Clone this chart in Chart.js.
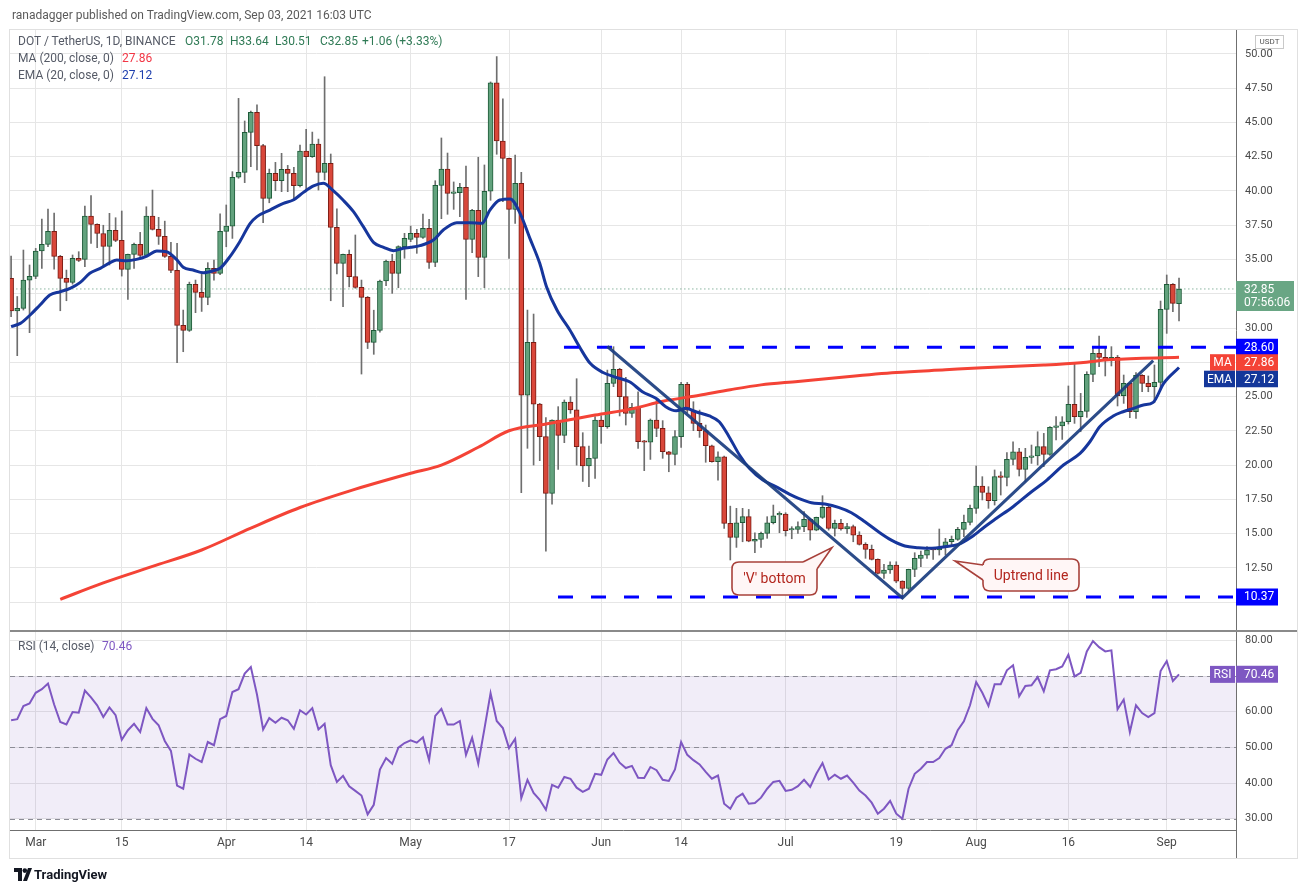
<!DOCTYPE html>
<html>
<head>
<meta charset="utf-8">
<title>DOT / TetherUS 1D</title>
<script src="https://cdn.jsdelivr.net/npm/chart.js@4.4.1/dist/chart.umd.min.js"></script>
<style>
html,body{margin:0;padding:0;background:#fff;}
#wrap{position:relative;width:1308px;height:893px;overflow:hidden;font-family:Roboto,"Liberation Sans",Arial,sans-serif;}
#c{position:absolute;left:0;top:0;}
.t{position:absolute;white-space:nowrap;font-size:12px;line-height:14px;color:#555a66;}
.ln{position:absolute;}
</style>
</head>
<body>
<div id="wrap">
  <div class="ln" style="left:9px;top:29px;width:1287px;height:828px;border:1px solid #e0e0e0;"></div>
  <canvas id="c" width="1308" height="893"></canvas>
  <div class="ln" style="left:10px;top:630px;width:1287px;height:2px;background:#8a8a8a;"></div>
  <div class="ln" style="left:1236px;top:830px;width:1px;height:28px;background:#6f6f6f;"></div>

  <div class="t" style="left:12px;top:8px;color:#5a5a5a;">ranadagger published on TradingView.com, Sep 03, 2021 16:03 UTC</div>
  <div class="t" style="left:18px;top:34px;">DOT / TetherUS, 1D, BINANCE</div>
  <div class="t" style="left:185px;top:34px;color:#2f7a55;">O31.78</div>
  <div class="t" style="left:230px;top:34px;color:#2f7a55;">H33.64</div>
  <div class="t" style="left:275px;top:34px;color:#2f7a55;">L30.51</div>
  <div class="t" style="left:320px;top:34px;color:#2f7a55;">C32.85</div>
  <div class="t" style="left:362px;top:34px;color:#2f7a55;">+1.06 (+3.33%)</div>
  <div class="t" style="left:18px;top:51px;">MA (200, close, 0)</div>
  <div class="t" style="left:122px;top:51px;color:#f23645;">27.86</div>
  <div class="t" style="left:18px;top:68px;">EMA (20, close, 0)</div>
  <div class="t" style="left:122px;top:68px;color:#1e3fae;">27.12</div>
  <div class="t" style="left:18px;top:639px;">RSI (14, close)</div>
  <div class="t" style="left:102px;top:639px;color:#7e57c2;">70.46</div>
  <div class="t" style="left:1255px;top:35px;width:27px;height:12px;border:1px solid #c9c9c9;font-size:8px;line-height:12px;text-align:center;color:#555;">USDT</div>

  <svg style="position:absolute;left:14px;top:868px;" width="18" height="14" viewBox="0 0 18 14">
    <path d="M0 0h8v13H4V4H0z" fill="#131722"/><circle cx="10.8" cy="2.6" r="2.3" fill="#131722"/><path d="M14 0h4l-5 13H9z" fill="#131722"/>
  </svg>
  <div class="t" style="left:34px;top:867px;font-size:13px;line-height:16px;color:#131722;font-weight:bold;">TradingView</div>
</div>
<script>
// ---- data ----
const opens = [
33.62,31.24,31.43,33.5,33.77,35.62,36.1,37.05,35.23,33.62,
33.33,35.08,35.01,38.17,37.56,36.9,35.96,37.13,36.4,34.28,
35.37,36.1,35.3,38.17,37.2,36.69,35.23,34.21,30.19,29.83,
33.18,32.6,32.24,34.35,33.99,37.05,37.44,41.0,41.36,44.28,
45.74,43.31,39.46,41.29,40.75,41.58,41.29,40.39,42.92,42.51,
43.43,41.36,42.02,37.35,34.72,35.38,33.75,32.97,32.24,28.95,
29.83,33.43,34.89,33.99,35.94,36.47,36.91,36.62,37.27,34.79,
40.41,41.6,39.83,39.88,40.27,36.47,38.59,35.16,39.98,47.9,
43.65,42.38,38.66,40.56,25.09,28.95,24.45,22.07,17.93,23.28,
22.17,24.6,24.02,21.34,19.93,20.49,23.28,22.8,25.96,26.98,
24.99,23.77,24.21,21.75,21.66,23.28,22.68,20.97,20.78,22.07,
25.89,24.01,23.04,22.51,21.41,20.24,20.6,15.74,14.72,15.79,
16.23,14.45,14.57,15.01,15.79,16.36,16.42,15.26,15.3,15.5,
16.03,15.25,16.18,16.91,15.38,15.74,15.33,15.5,14.89,14.21,
13.85,13.11,12.09,12.34,12.7,11.53,10.99,12.38,13.19,13.43,
13.87,13.8,13.99,14.4,14.57,15.3,15.82,16.84,18.47,17.98,
17.4,19.15,19.1,20.41,20.97,19.68,20.56,20.66,21.34,20.78,
22.75,22.85,23.16,24.43,23.53,23.92,26.62,28.15,27.86,27.71,
27.86,25.06,25.96,23.89,26.55,25.96,25.72,26.03,31.36,33.19,
31.78];
const highs = [
35.25,32.3,35.69,34.6,35.81,37.95,38.68,38.39,35.3,34.23,
35.33,35.57,38.9,39.66,37.6,37.5,38.37,38.05,38.54,35.4,
36.2,36.98,38.85,40.07,38.08,37.8,36.25,36.18,31.31,33.35,
33.5,33.94,34.77,34.96,38.34,38.98,41.41,46.76,45.11,45.84,
46.28,43.4,41.6,42.09,42.75,41.87,41.73,43.36,44.5,44.3,
43.79,48.34,42.7,38.69,35.4,35.69,36.79,33.5,32.3,31.3,
33.5,34.96,35.38,36.0,36.91,37.44,37.2,38.32,37.93,40.75,
43.87,42.77,40.66,40.56,41.82,38.66,42.46,41.9,47.96,49.81,
46.72,42.4,42.63,41.36,31.31,31.02,24.5,23.46,23.3,24.26,
24.75,24.99,26.3,22.36,21.38,23.53,23.6,26.93,28.64,27.06,
26.4,24.5,25.35,21.8,23.36,24.74,23.24,21.0,22.51,26.03,
26.03,24.62,24.01,22.92,21.45,20.97,20.65,17.0,16.84,16.84,
16.76,15.06,15.1,16.23,17.08,16.59,16.52,15.5,15.86,16.6,
16.1,16.2,17.76,17.0,15.98,16.03,15.74,15.62,15.13,14.33,
14.16,13.15,12.75,12.94,12.94,11.55,12.4,13.6,13.72,14.04,
13.9,15.33,14.65,14.82,15.45,16.35,17.08,19.93,19.15,18.42,
19.64,19.51,20.9,21.7,21.22,21.22,21.46,22.43,22.31,22.8,
23.53,23.53,25.77,27.42,25.23,26.81,28.64,29.42,28.52,28.64,
28.0,26.57,26.0,26.74,26.6,26.5,27.3,31.97,33.87,33.25,
33.64];
const lows = [
30.82,27.98,31.31,29.66,33.6,34.35,35.93,34.3,31.26,31.99,
33.2,34.85,34.47,36.18,35.86,34.47,34.6,36.3,33.79,32.09,
34.35,35.08,35.25,37.15,36.1,35.15,34.04,27.47,28.27,29.75,
31.12,31.21,31.7,33.5,33.9,35.93,36.54,40.93,40.61,41.77,
41.53,37.69,39.14,40.02,39.95,39.95,39.3,40.3,40.07,42.45,
40.07,40.8,31.99,33.94,31.56,33.0,32.9,26.64,28.5,28.08,
29.7,33.09,32.53,32.94,35.09,36.3,35.45,36.54,34.35,34.48,
37.98,38.3,38.66,38.13,32.09,35.5,33.75,32.94,39.32,42.68,
39.22,35.08,37.64,17.98,21.22,20.0,20.32,13.72,17.15,19.68,
21.63,23.77,19.99,18.8,18.42,19.03,21.58,22.68,25.72,23.58,
22.92,23.48,21.22,19.59,20.41,22.07,20.49,19.51,20.0,21.29,
23.82,22.51,22.02,20.2,20.2,18.9,15.38,13.07,13.99,14.4,
14.4,13.6,13.99,14.65,15.7,15.06,14.82,14.62,15.0,15.13,
14.52,15.2,16.1,15.25,14.82,15.25,15.01,14.4,14.16,13.19,
13.07,12.04,11.73,12.09,11.41,10.27,10.75,11.85,12.58,13.19,
13.11,13.43,13.43,14.16,14.5,14.77,15.62,16.47,17.45,16.84,
17.08,17.81,18.47,20.0,19.2,18.78,20.12,20.0,19.88,20.7,
21.83,21.87,22.99,23.04,22.43,23.48,26.08,27.18,26.5,27.23,
24.31,24.5,23.45,23.41,25.35,25.35,24.55,25.52,29.61,31.19,
30.51];
const closes = [
31.24,31.43,33.5,33.77,35.62,36.1,37.05,35.23,33.62,33.33,
35.08,34.94,38.17,37.56,36.9,35.96,37.13,36.4,34.28,35.37,
36.1,35.3,38.17,37.2,36.69,35.23,34.21,30.19,29.83,33.18,
32.6,32.24,34.35,33.99,37.05,37.44,41.0,41.36,44.28,45.74,
43.31,39.46,41.29,40.75,41.58,41.29,40.39,42.92,42.51,43.43,
41.36,42.02,37.35,34.72,35.38,33.75,32.97,32.24,28.95,29.83,
33.43,34.89,33.99,35.94,36.55,36.91,36.62,37.27,34.79,40.41,
41.6,39.83,39.88,40.27,36.47,38.59,35.16,39.98,47.9,43.65,
42.38,38.66,40.56,25.09,28.95,24.45,22.07,17.93,23.28,22.17,
24.6,24.02,21.34,19.93,20.49,23.28,22.8,25.96,26.98,24.99,
23.77,24.21,21.7,21.66,23.28,22.68,20.97,20.78,22.07,25.89,
24.01,23.04,22.51,21.41,20.24,20.6,15.74,14.72,15.79,16.23,
14.45,14.57,15.01,15.79,16.3,16.4,15.21,15.3,15.5,16.03,
15.25,16.18,16.91,15.38,15.74,15.33,15.5,14.89,14.21,13.85,
13.11,12.09,12.34,12.7,11.53,10.99,12.38,13.19,13.43,13.8,
13.8,13.99,14.4,14.57,15.3,15.82,16.84,18.47,18.0,17.4,
19.15,19.1,20.41,20.97,19.68,20.56,20.66,21.34,20.78,22.75,
22.85,23.16,24.43,23.53,23.92,26.62,28.15,27.86,27.71,27.86,
25.06,25.96,23.89,26.55,25.96,25.72,26.03,31.36,33.19,31.8,
32.85];
const rsiValues = [
57.6,57.9,61.6,62.3,65.3,66.3,67.9,62.0,57.1,56.4,
59.9,59.7,65.9,64.0,61.8,58.5,61.2,59.0,52.1,54.8,
56.6,54.3,61.0,58.0,56.2,51.8,49.0,39.3,38.4,48.0,
46.8,45.9,51.5,50.6,57.9,58.8,65.5,66.3,70.7,72.5,
64.8,55.0,58.2,56.9,58.3,57.6,55.2,60.4,59.2,61.0,
55.0,56.6,45.0,40.3,42.0,39.1,37.8,36.5,31.2,33.9,
43.8,47.0,45.4,49.9,51.2,52.0,51.3,52.8,46.4,58.8,
60.8,56.4,56.4,57.4,47.9,52.7,45.4,55.2,65.2,57.4,
55.4,49.8,52.4,35.8,40.9,37.2,35.3,32.5,39.5,38.7,
41.7,41.2,38.7,37.5,38.4,42.6,42.3,46.6,48.4,45.7,
44.2,44.8,41.5,41.4,44.5,43.6,40.9,40.6,43.8,51.5,
47.9,46.4,45.2,43.1,41.2,42.1,34.2,32.8,35.9,37.0,
34.2,34.4,35.9,38.4,40.3,40.6,37.8,38.1,39.1,40.9,
38.9,42.6,45.6,41.0,42.3,41.2,42.1,40.1,37.9,36.5,
34.5,31.4,32.8,35.0,31.4,30.0,38.4,42.6,44.0,45.9,
45.9,47.0,49.6,50.6,54.8,57.3,61.8,68.3,65.3,61.6,
67.7,67.7,71.6,73.0,64.3,67.2,67.4,69.7,65.7,71.6,
71.9,72.7,76.0,69.9,70.9,76.9,79.8,78.1,76.9,77.2,
60.7,63.4,54.3,61.8,59.6,58.5,59.6,71.4,74.2,68.6,
70.46];
const emaDays = [0,1.5,3.1,4.7,6.3,8,9.6,11.2,12.8,14.5,16.1,17.2,18.8,20.4,22.1,23.7,25.3,26.9,28,29.6,
31.3,32.9,34,35.6,37.2,38.9,40,42.1,44.3,45.9,47.5,49.2,50.8,52.4,54,55.7,57.3,59,60.6,62.2,
63.8,65,66.5,68.7,70.3,72.5,74.7,76.6,77.9,79.5,81.2,82.8,84.4,86,87.1,88.8,90.9,92.6,94.2,96.3,
98.4,100.6,102.7,104.9,106.5,108.2,109.8,111.4,113.6,115.2,116.8,118.5,120.1,122.3,124.4,126.6,128.1,130.2,132.4,134.6,
136.7,138.9,141.1,143.2,145.4,147.6,149.8,151.9,154.1,156.3,158.4,160.3,163,165.8,168.5,171.2,173.9,175.5,177.1,179.3,
180.9,182.6,184.2,185.8,187.5,190];
const emaValues = [30.1,30.34,30.95,31.68,32.41,32.65,32.89,33.31,33.99,34.35,34.77,34.96,34.91,35.01,35.25,35.62,35.57,35.01,34.43,34.23,
34.04,34.18,34.36,35.21,36.3,37.64,38.13,38.61,39.1,39.34,39.88,40.37,40.56,40.02,39.34,38.49,37.4,36.23,35.89,35.64,
35.82,35.89,36.01,36.42,37.15,37.69,37.69,37.64,38.61,39.34,39.42,38.37,36.54,34.72,33.02,31.31,29.85,28.52,27.42,26.75,
26.4,26.08,25.35,24.87,24.26,23.96,24.14,23.89,23.58,23.16,22.07,20.73,19.76,18.9,18.42,17.88,17.57,17.25,17.15,16.91,
16.52,15.86,15.13,14.52,14.09,13.97,13.92,14.04,14.21,14.77,15.5,16.11,16.96,17.98,18.9,20.0,20.85,21.7,22.8,23.58,
23.89,24.14,24.38,24.57,25.96,27.12];
const maDays = [8,15,23,31,39,47,55,65,70,76,81,87,92,95,101,106,112,117,122,128,136,144,152,158,168,174,179,190];
const maValues = [10.2,11.4,12.6,13.8,15.4,16.9,18.1,19.4,20.0,21.3,22.5,23.0,23.4,23.65,24.1,24.65,25.1,25.5,25.85,26.1,26.45,26.75,26.95,27.1,27.3,27.47,27.7,27.86];
const tickDays = [4,18,35,48,65,81,96,109,126,144,157,172,188];
const tickLabels = ['Mar','15','Apr','14','May','17','Jun','14','Jul','19','Aug','16','Sep'];
const priceTicks = [10,12.5,15,17.5,20,22.5,25,27.5,30,32.5,35,37.5,40,42.5,45,47.5,50];
const rsiTicks = [30,40,50,60,70,80];
const resistanceLevel = 28.60, resistanceFrom = 89.94;
const supportLevel = 10.37, supportFrom = 88.97;
const trendDays = [97, 145, 185.8];
const trendValues = [28.65, 10.3, 27.62];
const lastPrice = 32.85, countdown = '07:56:06';
const maLast = 27.86, emaLast = 27.12, rsiLast = 70.46;
const calloutTexts = ["'V' bottom", 'Uptrend line'];

// ---- chart ----
const days = opens.map((_, i) => i);
const UP = '#62a27d', UP_B = '#1e5b39', DN = '#d9473a', DN_B = '#7b1c14';
Chart.defaults.font.family = 'Roboto, "Liberation Sans", Arial, sans-serif';

const bandPlugin = {
  id: 'rsiBand',
  beforeDatasetsDraw(chart) {
    const {ctx, chartArea: a} = chart; const rs = chart.scales.rsi;
    const y70 = rs.getPixelForValue(70), y30 = rs.getPixelForValue(30), y50 = rs.getPixelForValue(50);
    ctx.save();
    ctx.fillStyle = 'rgba(126,87,194,0.11)';
    ctx.fillRect(a.left, y70, a.right - a.left, y30 - y70);
    ctx.strokeStyle = '#8c8c96'; ctx.lineWidth = 1; ctx.setLineDash([5, 4]);
    [y70, y50, y30].forEach(y => { ctx.beginPath(); ctx.moveTo(a.left, Math.round(y)+0.5); ctx.lineTo(a.right, Math.round(y)+0.5); ctx.stroke(); });
    ctx.restore();
  }
};

const calloutPlugin = {
  id: 'callouts',
  afterDatasetsDraw(chart) {
    const {ctx} = chart;
    const defs = [
      {box:[732,562,817,595], tip:[832,547.5], b1:[803,562], b2:[817,569]},
      {box:[983,559,1079,591], tip:[955,561], b1:[983,565], b2:[983,580]}
    ];
    ctx.save();
    defs.forEach((d, k) => {
      const [x0,y0,x1,y1] = d.box, r = 7;
      ctx.beginPath();
      ctx.moveTo(x0+r,y0); ctx.lineTo(x1-r,y0); ctx.quadraticCurveTo(x1,y0,x1,y0+r);
      ctx.lineTo(x1,y1-r); ctx.quadraticCurveTo(x1,y1,x1-r,y1); ctx.lineTo(x0+r,y1);
      ctx.quadraticCurveTo(x0,y1,x0,y1-r); ctx.lineTo(x0,y0+r); ctx.quadraticCurveTo(x0,y0,x0+r,y0); ctx.closePath();
      ctx.fillStyle = '#fff6f6'; ctx.fill();
      ctx.strokeStyle = '#a8413b'; ctx.lineWidth = 1.6; ctx.stroke();
      // pointer
      ctx.beginPath();
      ctx.moveTo(d.tip[0], d.tip[1]); ctx.lineTo(d.b1[0], d.b1[1]);
      if (k === 0) { ctx.lineTo(d.b1[0], d.b1[1]+2); ctx.lineTo(d.b2[0]-2, d.b2[1]); }
      else { ctx.lineTo(d.b1[0]+2, d.b1[1]); ctx.lineTo(d.b2[0]+2, d.b2[1]); }
      ctx.lineTo(d.b2[0], d.b2[1]); ctx.closePath();
      ctx.fillStyle = '#fff6f6'; ctx.fill();
      ctx.beginPath(); ctx.moveTo(d.b1[0], d.b1[1]); ctx.lineTo(d.tip[0], d.tip[1]); ctx.lineTo(d.b2[0], d.b2[1]); ctx.stroke();
      ctx.fillStyle = '#b3261e'; ctx.font = '14px Roboto, "Liberation Sans", Arial, sans-serif';
      ctx.textAlign = 'center'; ctx.textBaseline = 'middle';
      ctx.fillText(calloutTexts[k], (x0+x1)/2, (y0+y1)/2 + 1);
    });
    ctx.restore();
  }
};

const tagPlugin = {
  id: 'sideTags',
  afterDraw(chart) {
    const {ctx} = chart; const ys = chart.scales.y, rs = chart.scales.rsi;
    const x0 = ys.left;
    ctx.save();
    ctx.textBaseline = 'middle';
    const box = (x, y, w, h, bg) => { ctx.fillStyle = bg; ctx.beginPath(); ctx.rect(x, y, w, h); ctx.fill(); };
    const txt = (s, x, y, col, align) => { ctx.fillStyle = col || '#fff'; ctx.textAlign = align || 'left'; ctx.fillText(s, x, y); };
    ctx.font = '12px Roboto, "Liberation Sans", Arial, sans-serif';
    // last price + countdown
    let y = ys.getPixelForValue(lastPrice);
    box(x0, y - 8, 58, 30, '#69a684');
    txt(lastPrice.toFixed(2), x0 + 8, y + 1); txt(countdown, x0 + 8, y + 14);
    // resistance
    y = ys.getPixelForValue(resistanceLevel);
    let top = y - 8.5; box(x0, top, 42, 17, '#0000ff'); txt(resistanceLevel.toFixed(2), x0 + 8, top + 9);
    let prev = top + 17;
    // MA
    y = ys.getPixelForValue(maLast); top = Math.max(y - 8.5, prev - 1.5);
    box(x0, top, 42, 16.5, '#f44336'); box(x0 - 26, top, 25, 16.5, '#f44336');
    txt(maLast.toFixed(2), x0 + 8, top + 9); txt('MA', x0 - 13.5, top + 9, '#fff', 'center');
    prev = top + 16.5;
    // EMA
    y = ys.getPixelForValue(emaLast); top = Math.max(y - 8.5, prev);
    box(x0, top, 42, 16.5, '#14379a'); box(x0 - 32, top, 31, 16.5, '#14379a');
    txt(emaLast.toFixed(2), x0 + 8, top + 9); txt('EMA', x0 - 16.5, top + 9, '#fff', 'center');
    // support
    y = ys.getPixelForValue(supportLevel); top = y - 8.5;
    box(x0, top, 42, 17, '#0000ff'); txt(supportLevel.toFixed(2), x0 + 8, top + 9);
    // RSI
    y = rs.getPixelForValue(rsiLast); top = y - 8.5;
    box(x0, top, 42, 17, '#7e57c2'); box(x0 - 26, top, 25, 17, '#7e57c2');
    txt(rsiLast.toFixed(2), x0 + 8, top + 9); txt('RSI', x0 - 13.5, top + 9, '#fff', 'center');
    ctx.restore();
  }
};

const xy = (xs, vs) => xs.map((x, i) => ({x, y: vs[i]}));

new Chart(document.getElementById('c'), {
  type: 'bar',
  data: {
    datasets: [
      {type:'line', label:'RSI', yAxisID:'rsi', data: xy(days, rsiValues), borderColor:'#7e57c2', borderWidth:2, pointRadius:0, tension:0, order:0},
      {type:'line', label:'V trend', yAxisID:'y', data: xy(trendDays, trendValues), borderColor:'rgba(28,62,128,0.93)', borderWidth:3, pointRadius:0, order:1},
      {type:'line', label:'Resistance', yAxisID:'y', data: [{x:resistanceFrom,y:resistanceLevel},{x:205,y:resistanceLevel}], borderColor:'#0000ff', borderWidth:3, borderDash:[15,18], pointRadius:0, order:1},
      {type:'line', label:'Support', yAxisID:'y', data: [{x:supportFrom,y:supportLevel},{x:205,y:supportLevel}], borderColor:'#0000ff', borderWidth:3, borderDash:[15,18], pointRadius:0, order:1},
      {type:'line', label:'EMA 20', yAxisID:'y', data: xy(emaDays, emaValues), borderColor:'#16369c', borderWidth:3, pointRadius:0, cubicInterpolationMode:'monotone', order:2},
      {type:'line', label:'MA 200', yAxisID:'y', data: xy(maDays, maValues), borderColor:'#f44336', borderWidth:3, pointRadius:0, cubicInterpolationMode:'monotone', order:3},
      {type:'bar', label:'Bodies', yAxisID:'y', data: days.map(i => ({x:i, y:[opens[i], closes[i]]})), grouped:false, barThickness:5, maxBarThickness:5, minBarLength:1.5,
        backgroundColor: c => closes[c.dataIndex] >= opens[c.dataIndex] ? UP : DN,
        borderColor: c => closes[c.dataIndex] >= opens[c.dataIndex] ? UP_B : DN_B,
        borderWidth:1, borderSkipped:false, order:4},
      {type:'bar', label:'Wicks', yAxisID:'y', data: days.map(i => ({x:i, y:[lows[i], highs[i]]})), grouped:false, barThickness:1, maxBarThickness:1,
        backgroundColor:'#6e6e6e', borderWidth:0, order:5},
      {type:'line', label:'Last', yAxisID:'y', data: [{x:-5,y:lastPrice},{x:205,y:lastPrice}], borderColor:'#4f8f6f', borderWidth:1, borderDash:[1,3], pointRadius:0, order:6}
    ]
  },
  options: {
    responsive:false, animation:false, events:[],
    layout:{padding:{left:10, right:12, top:30, bottom:35}},
    plugins:{legend:{display:false}, tooltip:{enabled:false}},
    scales:{
      x:{type:'linear', min:-0.18, max:199.27, offset:false,
        grid:{color:'#e6e6e6', drawTicks:false, offset:false}, border:{display:true, color:'#6f6f6f'},
        ticks:{autoSkip:false, maxRotation:0, padding:6, color:'#4a4a4a', font:{size:12},
          callback:(v) => { const k = tickDays.indexOf(v); return k < 0 ? '' : tickLabels[k]; }},
        afterBuildTicks:(s) => { s.ticks = tickDays.map(v => ({value:v})); },
        afterFit:(s) => { s.height = 28; }},
      y:{type:'linear', position:'right', stack:'panes', stackWeight:3, min:7.96, max:51.75,
        grid:{color:'#e6e6e6', drawTicks:false}, border:{display:true, color:'#6f6f6f'},
        ticks:{padding:9, color:'#4a4a4a', font:{size:11}, callback:(v) => Number(v).toFixed(2)},
        afterBuildTicks:(s) => { s.ticks = priceTicks.map(v => ({value:v})); },
        afterFit:(s) => { s.width = 60; }},
      rsi:{type:'linear', position:'right', stack:'panes', stackWeight:1, min:26.83, max:82.9,
        grid:{color:'#e6e6e6', drawTicks:false}, border:{display:true, color:'#6f6f6f'},
        ticks:{padding:9, color:'#4a4a4a', font:{size:11}, callback:(v) => Number(v).toFixed(2)},
        afterBuildTicks:(s) => { s.ticks = rsiTicks.map(v => ({value:v})); },
        afterFit:(s) => { s.width = 60; }}
    }
  },
  plugins:[bandPlugin, calloutPlugin, tagPlugin]
});
</script>
</body>
</html>
